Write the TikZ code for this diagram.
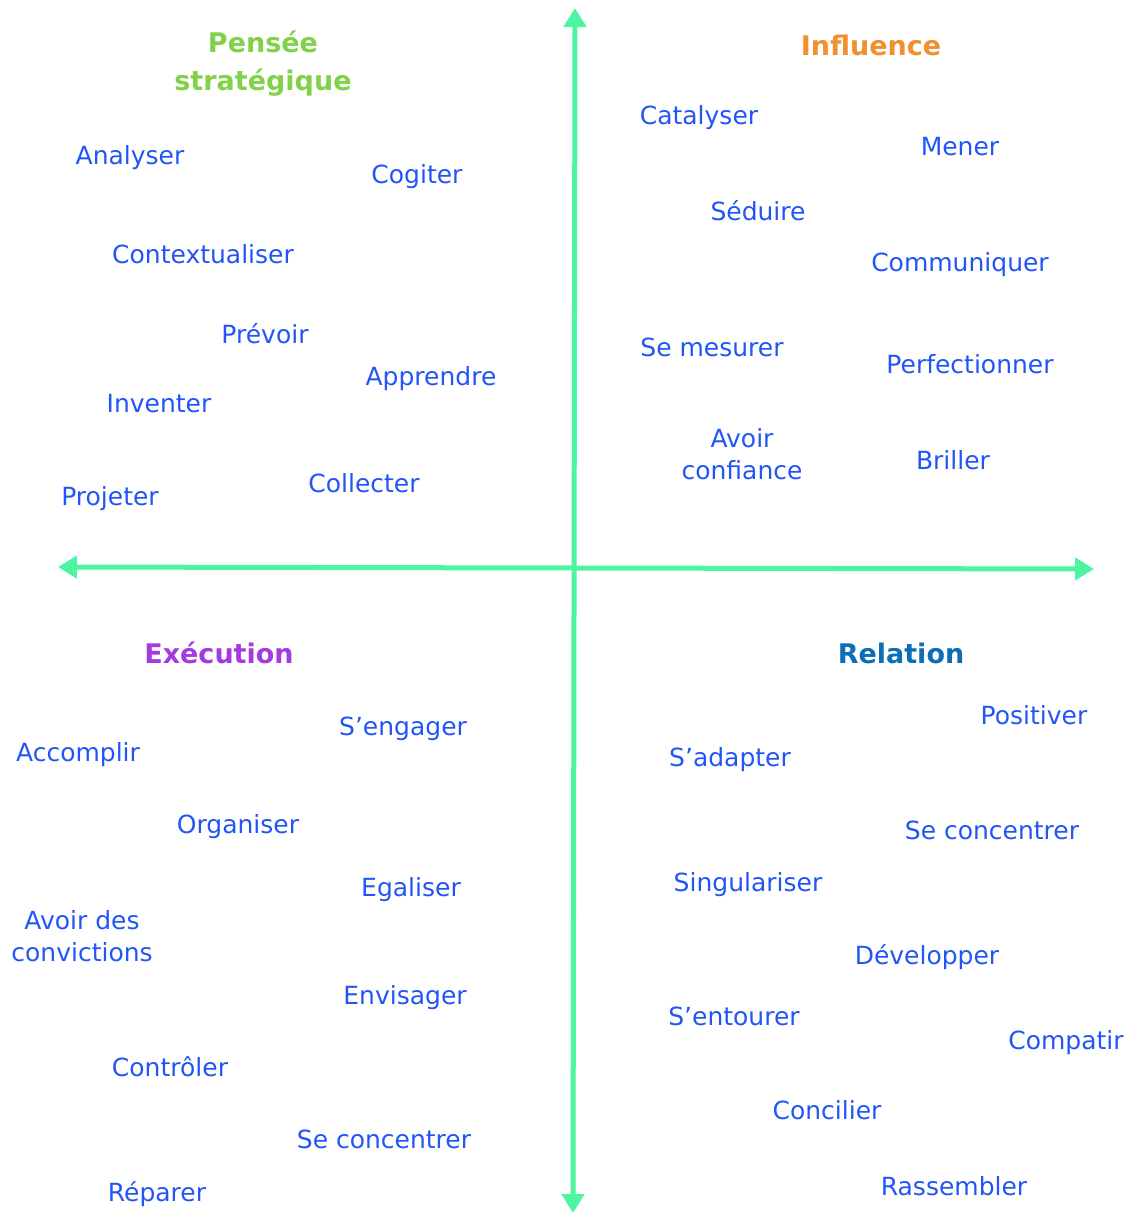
\documentclass[tikz,border=0pt]{standalone}
\usepackage{fontspec}
\setmainfont{DejaVu Sans}
\usepackage{xcolor}
\usetikzlibrary{arrows.meta}

\definecolor{axisgreen}{HTML}{4DF5A2}
\definecolor{wordblue}{HTML}{2255F5}
\definecolor{titlegreen}{HTML}{82D14B}
\definecolor{titleorange}{HTML}{F0902E}
\definecolor{titlepurple}{HTML}{A43BE0}
\definecolor{titleblue}{HTML}{0C6FB5}

\tikzset{
	word/.style={text=wordblue, font=\fontsize{25}{32}\selectfont, align=center},
	title/.style={font=\bfseries\fontsize{27}{38}\selectfont, align=center},
	axis/.style={axisgreen, line width=5pt, {Triangle[width=22pt,length=19pt]}-{Triangle[width=22pt,length=19pt]}}
}

\begin{document}
\begin{tikzpicture}[x=1pt, y=-1pt]
		\useasboundingbox (0,0) rectangle (1131,1214);
		% Axes
		\coordinate (top) at (575,8);
		\coordinate (bottom) at (573,1213);
		\coordinate (left) at (58,567);
		\coordinate (right) at (1094,569);
		\draw[axis] (top) -- (bottom);
		\draw[axis] (left) -- (right);

		% Titles
		\node[title, text=titlegreen] (pensee) at (263,64) {Pensée\\stratégique};
		\node[title, text=titleorange] (influence) at (871,45) {Influence};
		\node[title, text=titlepurple] (execution) at (219,653) {Exécution};
		\node[title, text=titleblue] (relation) at (901,653) {Relation};

		% Pensee strategique
		\node[word] (analyser) at (130,158) {Analyser};
		\node[word] (cogiter) at (417,177) {Cogiter};
		\node[word] (contextualiser) at (203,254) {Contextualiser};
		\node[word] (prevoir) at (265,334) {Prévoir};
		\node[word] (apprendre) at (431,379) {Apprendre};
		\node[word] (inventer) at (159,404) {Inventer};
		\node[word] (collecter) at (364,483) {Collecter};
		\node[word] (projeter) at (110,499) {Projeter};

		% Influence
		\node[word] (catalyser) at (699,118) {Catalyser};
		\node[word] (mener) at (960,147) {Mener};
		\node[word] (seduire) at (758,211) {Séduire};
		\node[word] (communiquer) at (960,265) {Communiquer};
		\node[word] (semesurer) at (712,347) {Se mesurer};
		\node[word] (perfectionner) at (970,364) {Perfectionner};
		\node[word] (confiance) at (742,454) {Avoir\\confiance};
		\node[word] (briller) at (953,460) {Briller};

		% Execution
		\node[word] (sengager) at (403,729) {S’engager};
		\node[word] (accomplir) at (78,755) {Accomplir};
		\node[word] (organiser) at (238,827) {Organiser};
		\node[word] (egaliser) at (411,890) {Egaliser};
		\node[word] (convictions) at (82,936) {Avoir des\\convictions};
		\node[word] (envisager) at (405,998) {Envisager};
		\node[word] (controler) at (170,1067) {Contrôler};
		\node[word] (seconcentrerA) at (384,1139) {Se concentrer};
		\node[word] (reparer) at (157,1194) {Réparer};

		% Relation
		\node[word] (positiver) at (1034,715) {Positiver};
		\node[word] (sadapter) at (730,760) {S’adapter};
		\node[word] (seconcentrerB) at (992,830) {Se concentrer};
		\node[word] (singulariser) at (748,885) {Singulariser};
		\node[word] (developper) at (927,957) {Développer};
		\node[word] (sentourer) at (734,1016) {S’entourer};
		\node[word] (compatir) at (1066,1043) {Compatir};
		\node[word] (concilier) at (827,1110) {Concilier};
		\node[word] (rassembler) at (954,1186) {Rassembler};
	\end{tikzpicture}
\end{document}
